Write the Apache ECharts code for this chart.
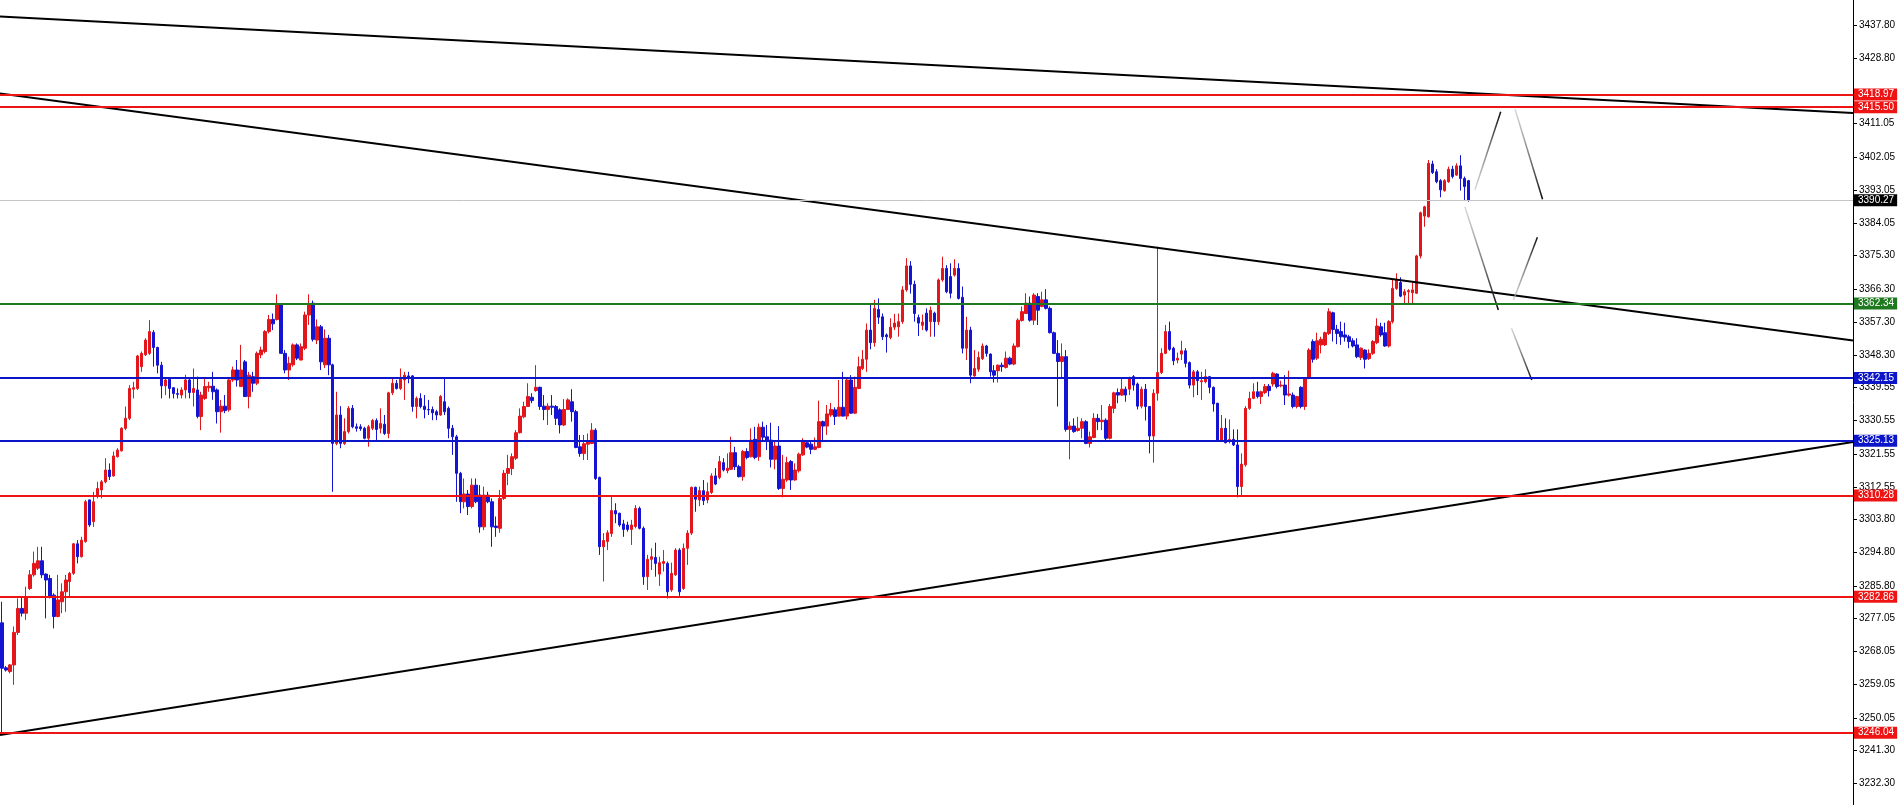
<!DOCTYPE html>
<html><head><meta charset="utf-8">
<script src="https://cdn.jsdelivr.net/npm/echarts@6/dist/echarts.min.js"></script>
<style>html,body{margin:0;padding:0;background:#fff;overflow:hidden}#c{width:1899px;height:805px}</style>
</head><body><div id="c"></div><script>
const opens = [
3275.8,3263.6,3262.6,3264.4,3273.2,3279.7,3278.4,3285.1,3288.8,3290.6,
3292.6,3289.0,3287.8,3283.3,3277.5,3281.5,3284.2,3287.0,3289.2,3297.2,
3293.7,3297.8,3309.1,3303.2,3310.0,3311.8,3314.0,3317.2,3315.6,3320.8,
3322.4,3328.5,3331.2,3339.1,3339.3,3345.2,3348.4,3348.8,3354.5,3350.4,
3345.6,3340.0,3341.8,3339.5,3337.9,3337.5,3338.9,3341.6,3338.2,3338.9,
3331.7,3336.6,3339.5,3339.9,3338.9,3333.0,3334.5,3333.5,3341.6,3344.3,
3339.8,3346.5,3337.1,3342.5,3340.7,3348.4,3349.3,3354.7,3358.0,3358.0,
3361.9,3348.8,3344.3,3345.7,3351.1,3347.0,3350.2,3359.2,3362.4,3352.4,
3356.0,3345.7,3352.9,3345.7,3324.4,3332.1,3324.4,3327.6,3333.9,3328.9,
3328.9,3328.5,3325.8,3328.5,3330.6,3328.5,3329.6,3327.1,3338.1,3340.7,
3339.3,3341.6,3342.7,3342.7,3334.4,3336.6,3334.5,3333.6,3333.6,3333.0,
3332.1,3335.7,3333.9,3328.5,3326.2,3316.3,3308.6,3310.7,3307.3,3313.1,
3310.4,3301.8,3310.4,3308.6,3302.0,3301.4,3309.5,3316.3,3317.6,3320.4,
3327.3,3331.6,3334.4,3336.9,3338.7,3339.6,3334.5,3333.6,3334.5,3334.4,
3333.5,3329.4,3333.6,3335.7,3333.0,3323.5,3321.7,3324.2,3324.4,3328.0,
3315.2,3296.4,3297.8,3300.0,3306.2,3305.5,3302.6,3302.3,3301.1,3301.9,
3306.8,3301.4,3288.3,3293.0,3293.5,3289.0,3291.9,3291.9,3284.7,3288.8,
3295.5,3285.1,3296.0,3300.1,3312.5,3309.1,3311.6,3309.1,3311.1,3315.6,
3315.2,3319.2,3317.0,3317.4,3321.9,3318.1,3315.4,3322.2,3320.8,3325.5,
3320.8,3328.8,3326.2,3325.3,3320.1,3323.7,3312.2,3314.5,3319.5,3314.5,
3317.0,3321.3,3324.6,3324.2,3322.8,3323.3,3330.3,3329.1,3332.1,3333.5,
3331.8,3334.2,3331.8,3341.6,3332.6,3339.3,3344.7,3347.2,3355.1,3351.7,
3360.7,3358.7,3353.8,3353.1,3355.9,3356.0,3357.4,3366.0,3372.5,3367.5,
3358.5,3356.4,3359.7,3357.4,3359.7,3357.4,3368.7,3371.8,3369.6,3370.0,
3371.8,3364.0,3350.2,3355.1,3342.7,3344.5,3347.4,3350.8,3348.6,3344.1,
3344.1,3345.6,3345.0,3347.5,3345.9,3350.6,3357.7,3359.6,3362.4,3357.8,
3364.2,3361.5,3363.3,3361.0,3354.4,3348.8,3346.6,3347.9,3328.2,3329.1,
3327.9,3328.5,3330.3,3324.4,3326.0,3331.2,3330.3,3330.7,3325.8,3333.9,
3338.2,3337.5,3339.1,3339.1,3342.5,3340.5,3334.5,3339.1,3334.4,3326.4,
3338.0,3343.6,3348.8,3354.7,3350.2,3347.0,3348.6,3349.5,3346.3,3340.2,
3343.8,3341.1,3341.1,3342.5,3339.6,3335.3,3325.3,3328.5,3325.2,3325.5,
3324.0,3312.7,3318.6,3333.9,3336.6,3338.4,3337.1,3338.2,3339.9,3340.5,
3343.2,3340.0,3340.2,3337.5,3337.5,3334.4,3339.6,3334.4,3342.0,3352.0,
3347.5,3351.1,3351.1,3354.2,3359.8,3355.3,3354.7,3353.8,3353.3,3352.2,
3351.1,3347.7,3349.7,3347.4,3348.8,3351.7,3356.0,3354.4,3350.8,3357.4,
3366.4,3368.0,3364.6,3365.5,3365.2,3365.1,3375.2,3386.0,3385.8,3400.1,
3398.0,3395.6,3392.9,3395.3,3398.7,3397.1,3399.6,3396.2,3395.6];
const closes = [
3263.5,3263.0,3264.4,3273.2,3279.7,3278.4,3282.9,3288.8,3291.9,3292.6,
3288.8,3287.4,3282.9,3277.5,3282.0,3284.2,3287.4,3289.2,3297.2,3293.7,
3298.2,3308.6,3302.3,3308.6,3312.2,3314.0,3317.2,3315.4,3321.0,3322.6,
3328.5,3331.2,3339.3,3339.5,3348.1,3348.8,3352.4,3354.7,3350.4,3345.6,
3340.0,3341.6,3339.3,3337.9,3337.7,3338.9,3341.6,3338.2,3339.3,3331.7,
3337.5,3339.8,3339.9,3338.4,3333.0,3334.5,3333.3,3341.6,3344.3,3341.6,
3344.3,3337.1,3342.9,3340.7,3348.8,3349.7,3354.7,3358.0,3356.8,3361.9,
3348.8,3344.3,3346.1,3351.1,3347.5,3350.6,3359.2,3361.9,3352.6,3356.0,
3346.5,3352.9,3345.7,3324.4,3332.1,3324.4,3327.6,3333.9,3328.9,3328.5,
3328.4,3325.8,3328.9,3330.6,3328.2,3329.8,3327.1,3338.1,3340.7,3339.3,
3341.8,3342.9,3342.3,3334.4,3336.6,3334.4,3333.6,3333.5,3332.7,3332.1,
3337.1,3333.0,3328.5,3326.2,3316.3,3308.6,3310.7,3307.3,3313.1,3308.6,
3301.8,3310.4,3308.6,3301.8,3301.6,3309.5,3316.3,3317.6,3320.8,3327.3,
3331.8,3334.4,3337.1,3336.0,3339.6,3334.4,3333.6,3334.5,3334.2,3331.2,
3329.4,3333.6,3336.2,3333.0,3323.3,3321.7,3324.3,3324.9,3328.0,3314.9,
3296.4,3298.1,3300.2,3306.2,3305.3,3302.3,3301.1,3301.1,3302.3,3306.8,
3301.4,3288.3,3293.0,3293.7,3291.9,3292.1,3292.4,3284.2,3289.2,3295.5,
3284.2,3296.0,3300.1,3312.5,3309.3,3311.6,3308.9,3311.3,3315.6,3313.4,
3319.5,3317.2,3317.7,3321.9,3318.1,3315.4,3322.2,3320.6,3325.3,3320.6,
3328.8,3326.1,3324.9,3320.1,3323.7,3312.2,3314.7,3319.2,3314.5,3317.2,
3321.5,3325.2,3323.4,3322.8,3323.5,3330.3,3329.1,3332.4,3333.6,3331.7,
3334.2,3331.8,3341.6,3332.6,3339.6,3345.2,3347.2,3355.1,3351.7,3361.0,
3358.6,3353.3,3353.3,3355.9,3357.0,3357.4,3366.0,3372.5,3367.5,3359.6,
3357.0,3357.3,3355.1,3360.5,3357.4,3368.7,3371.8,3365.5,3365.1,3371.8,
3363.7,3350.2,3355.1,3342.9,3344.7,3347.7,3350.8,3348.8,3343.8,3342.9,
3345.6,3345.2,3347.5,3345.9,3350.8,3357.8,3360.1,3362.4,3357.8,3364.6,
3360.5,3363.3,3361.0,3354.4,3348.8,3346.6,3347.9,3328.2,3329.1,3327.6,
3328.5,3330.3,3324.4,3326.2,3331.2,3330.3,3330.7,3325.8,3334.4,3338.1,
3337.5,3339.1,3337.5,3342.0,3340.2,3334.5,3339.1,3334.4,3326.4,3338.0,
3343.6,3348.8,3354.7,3349.9,3346.8,3347.5,3349.5,3346.1,3340.2,3343.8,
3341.4,3341.4,3342.5,3339.6,3335.1,3325.3,3328.5,3324.6,3325.5,3324.0,
3312.7,3318.8,3333.9,3336.6,3338.4,3337.1,3338.4,3339.8,3338.7,3343.4,
3339.8,3340.2,3337.5,3337.8,3334.4,3337.1,3334.4,3342.0,3349.7,3347.2,
3352.2,3352.6,3354.4,3360.1,3355.3,3354.2,3353.3,3353.2,3352.0,3350.8,
3347.9,3350.2,3347.2,3348.8,3352.0,3356.2,3353.8,3350.8,3357.4,3366.4,
3368.7,3364.3,3365.5,3365.8,3366.0,3375.2,3386.9,3388.5,3400.3,3397.8,
3395.3,3393.1,3395.6,3398.7,3396.7,3399.6,3396.2,3394.0,3390.27];
const lows = [
3246.0,3262.6,3262.1,3259.0,3272.5,3277.5,3276.6,3284.7,3288.3,3290.1,
3287.9,3277.0,3282.4,3274.3,3277.3,3278.4,3278.8,3282.9,3288.8,3291.9,
3293.5,3297.5,3301.8,3301.8,3309.5,3309.5,3313.6,3314.5,3315.4,3320.6,
3322.2,3328.0,3330.7,3336.6,3338.9,3343.8,3348.1,3348.4,3345.2,3343.4,
3336.6,3337.5,3336.6,3336.6,3336.6,3336.6,3336.6,3336.6,3334.4,3331.2,
3328.0,3336.2,3338.4,3336.2,3329.8,3327.3,3332.6,3333.0,3341.1,3339.8,
3339.8,3337.1,3333.9,3338.4,3340.2,3347.5,3348.8,3354.2,3355.1,3357.7,
3348.8,3343.4,3341.6,3345.2,3347.0,3346.9,3349.7,3356.5,3352.0,3351.3,
3344.3,3344.8,3342.9,3311.3,3323.9,3323.1,3324.0,3327.1,3328.5,3327.6,
3327.8,3325.5,3323.5,3328.0,3325.3,3327.1,3326.7,3325.8,3337.5,3339.0,
3338.9,3336.2,3340.7,3333.0,3331.2,3333.9,3331.2,3332.1,3330.7,3330.7,
3331.9,3332.1,3325.8,3321.3,3308.6,3305.5,3306.8,3305.0,3306.8,3308.2,
3300.2,3300.9,3308.2,3296.4,3299.1,3300.2,3309.1,3313.1,3315.8,3319.9,
3327.1,3331.2,3334.4,3335.3,3338.4,3333.5,3330.7,3329.4,3332.1,3329.4,
3327.1,3329.1,3333.5,3330.3,3323.1,3320.8,3319.9,3319.9,3324.2,3314.5,
3294.2,3287.0,3295.5,3299.1,3302.8,3301.8,3299.1,3300.5,3296.9,3301.4,
3301.1,3286.1,3284.7,3290.1,3288.3,3285.8,3289.7,3282.4,3284.2,3288.5,
3283.1,3284.7,3291.5,3299.6,3305.9,3307.4,3307.7,3308.2,3310.7,3313.1,
3314.7,3316.8,3316.3,3317.2,3317.2,3315.2,3314.3,3320.1,3320.6,3320.1,
3319.7,3325.3,3322.6,3317.9,3317.4,3311.8,3309.8,3314.0,3311.8,3314.3,
3316.5,3321.0,3323.1,3321.5,3322.6,3323.1,3325.3,3326.7,3331.6,3329.4,
3331.7,3331.7,3330.9,3332.4,3332.4,3339.1,3344.3,3343.8,3349.9,3350.6,
3356.8,3352.4,3349.0,3352.6,3355.1,3353.3,3356.8,3365.5,3365.0,3357.4,
3353.5,3355.1,3354.7,3353.3,3353.3,3356.5,3368.2,3365.1,3363.7,3369.6,
3363.4,3348.8,3347.0,3340.7,3342.5,3343.8,3347.0,3347.9,3342.5,3340.9,
3340.9,3343.8,3344.7,3345.6,3345.6,3350.4,3357.4,3359.5,3357.4,3356.5,
3356.5,3361.3,3360.7,3354.2,3348.6,3334.4,3342.0,3327.6,3320.1,3327.3,
3327.6,3325.8,3324.2,3323.3,3325.8,3328.0,3328.0,3324.9,3325.5,3332.6,
3335.3,3337.3,3335.7,3337.5,3338.7,3333.6,3333.9,3330.6,3321.7,3319.2,
3336.0,3343.2,3348.6,3349.5,3345.6,3346.1,3347.0,3345.0,3339.3,3336.9,
3337.5,3336.2,3340.7,3338.0,3333.0,3325.2,3324.9,3324.4,3324.4,3323.7,
3309.8,3310.4,3318.1,3333.5,3336.4,3336.6,3335.1,3337.8,3337.1,3339.8,
3339.3,3339.6,3334.8,3337.1,3333.9,3333.9,3333.9,3333.5,3341.8,3346.3,
3347.0,3348.8,3350.8,3353.8,3352.0,3351.3,3351.1,3352.0,3350.2,3350.4,
3347.5,3347.0,3344.7,3347.0,3348.4,3351.3,3353.3,3350.6,3350.4,3356.9,
3366.0,3364.0,3362.4,3362.4,3362.4,3364.9,3374.5,3383.1,3385.6,3397.4,
3394.9,3391.1,3392.6,3395.0,3396.2,3396.9,3392.9,3390.2,3389.9];
const highs = [
3281.5,3264.1,3264.6,3274.8,3282.4,3282.9,3285.6,3290.1,3295.1,3296.4,
3296.4,3289.2,3288.8,3283.8,3288.8,3286.5,3288.8,3289.6,3297.4,3298.2,
3299.1,3309.1,3309.2,3311.3,3314.0,3314.5,3320.4,3319.0,3322.2,3323.1,
3328.8,3334.4,3340.2,3341.1,3348.4,3349.3,3352.9,3357.8,3355.1,3350.6,
3346.5,3342.0,3342.0,3339.6,3339.3,3339.6,3343.0,3342.0,3344.7,3342.5,
3338.4,3342.0,3341.1,3343.8,3339.3,3336.2,3337.5,3342.0,3345.2,3347.0,
3351.1,3347.0,3343.8,3343.8,3349.3,3350.6,3355.1,3359.2,3359.6,3364.8,
3362.4,3349.7,3347.9,3351.5,3351.5,3351.5,3360.1,3364.8,3363.1,3358.0,
3356.5,3355.3,3353.8,3346.0,3338.4,3334.5,3331.2,3334.5,3334.8,3329.8,
3329.6,3328.9,3329.4,3331.0,3331.2,3333.9,3332.1,3338.4,3342.0,3341.6,
3344.7,3343.8,3343.8,3342.9,3337.1,3338.0,3337.5,3336.2,3334.4,3333.5,
3337.5,3342.0,3334.4,3329.4,3326.7,3316.7,3314.9,3311.8,3314.9,3314.9,
3313.1,3312.7,3311.3,3309.5,3304.6,3311.8,3317.2,3321.3,3321.7,3328.0,
3333.9,3335.7,3340.7,3338.0,3345.6,3339.8,3337.5,3335.3,3337.5,3334.8,
3333.9,3336.4,3336.6,3339.1,3333.5,3326.7,3326.7,3327.1,3329.9,3328.5,
3315.4,3300.1,3300.9,3310.0,3308.2,3305.6,3303.7,3303.2,3303.7,3307.7,
3307.3,3301.9,3294.2,3296.0,3297.5,3293.7,3295.5,3292.4,3292.1,3296.0,
3296.0,3297.3,3300.9,3312.7,3312.7,3312.7,3314.5,3313.8,3316.3,3317.7,
3321.0,3320.4,3321.7,3326.2,3323.5,3318.6,3322.6,3323.1,3328.5,3328.9,
3329.8,3330.3,3329.4,3330.0,3324.9,3329.1,3321.3,3320.8,3319.9,3319.0,
3321.9,3325.8,3325.3,3325.3,3326.0,3336.0,3330.6,3334.8,3335.4,3334.2,
3341.6,3343.8,3342.3,3342.9,3342.5,3347.9,3349.7,3356.9,3361.9,3363.3,
3363.7,3359.6,3354.2,3358.3,3359.5,3359.6,3367.0,3374.6,3373.8,3368.5,
3359.3,3359.3,3361.0,3361.5,3360.1,3369.1,3375.0,3372.7,3373.2,3374.3,
3373.2,3366.9,3358.7,3356.0,3349.7,3349.3,3351.5,3351.1,3348.8,3345.6,
3345.8,3346.3,3349.3,3347.9,3351.5,3358.3,3361.5,3365.1,3364.2,3365.1,
3365.1,3365.5,3366.2,3361.5,3354.7,3352.4,3351.5,3349.7,3330.3,3331.2,
3331.6,3331.2,3330.7,3327.6,3332.6,3332.4,3334.8,3331.2,3335.1,3338.4,
3339.3,3342.0,3339.8,3342.5,3342.9,3340.9,3339.8,3340.5,3334.5,3339.1,
3377.7,3350.2,3356.5,3357.4,3350.6,3349.0,3352.2,3350.2,3346.6,3344.3,
3344.3,3343.8,3344.5,3342.7,3339.8,3335.4,3332.1,3331.2,3330.9,3328.2,
3328.2,3321.7,3334.5,3338.4,3340.7,3341.1,3338.7,3340.5,3340.5,3343.8,
3343.4,3341.4,3342.9,3344.1,3338.2,3337.3,3339.9,3342.3,3350.2,3352.6,
3354.4,3353.3,3354.7,3361.0,3360.1,3356.5,3357.4,3357.1,3353.8,3352.9,
3352.9,3350.4,3349.9,3349.9,3352.4,3358.3,3357.1,3357.1,3357.8,3368.7,
3370.5,3369.4,3366.2,3366.2,3368.0,3375.5,3387.2,3388.8,3401.2,3401.0,
3398.7,3396.0,3396.0,3399.4,3399.6,3400.3,3402.5,3396.7,3395.8];

const tickValues = [3437.80,3428.80,3411.05,3402.05,3393.05,3384.05,3375.30,3366.30,3357.30,3348.30,
  3339.55,3330.55,3321.55,3312.55,3303.80,3294.80,3285.80,3277.05,3268.05,3259.05,3250.05,3241.30,3232.30];
const levelValues = [3418.97,3415.50,3390.27,3362.34,3342.15,3325.13,3310.28,3282.86,3246.04];
const levelKinds  = ['red','red','price','green','blue','blue','red','red','red'];
// trend lines: [barIndex0, price0, barIndex1, price1]
const trendLines = [[-0.5,3440.1,464.5,3413.95],[-0.5,3419.2,464.5,3352.3],[-0.5,3245.4,464.5,3324.8]];
const projectionLines = [[369.6,3393.06,376.1,3414.28],[379.7,3414.93,386.6,3390.54],
  [367.1,3388.54,375.5,3360.55],[379.3,3363.26,385.3,3380.25],[378.8,3355.59,383.9,3341.59]];
const slotCount = 465;
const yMin = 3226.44, yMax = 3444.54;

const UP = '#e3161c', DOWN = '#1414d2';
const kindStyle = {
  red:   {line:'#ee1414', box:'#ee1414', width:2, text:'#fff'},
  blue:  {line:'#0c16c8', box:'#0c16c8', width:2, text:'#fff'},
  green: {line:'#1f7a1f', box:'#1f7a1f', width:2, text:'#fff'},
  price: {line:'#c4c4c4', box:'#000000', width:1, text:'#fff'}
};
const FONT = 'Liberation Sans, Arial, sans-serif';

const categories = Array.from({length: slotCount}, (_, i) => String(i));
const candleData = opens.map((o, i) => [o, closes[i], lows[i], highs[i]]);

const markData = levelValues.map((v, i) => {
  const s = kindStyle[levelKinds[i]];
  return {
    yAxis: v,
    lineStyle: {color: s.line, width: s.width, type: 'solid'},
    label: {show: true, position: 'end', distance: 1, formatter: () => v.toFixed(2),
      color: s.text, backgroundColor: s.box, padding: [1, 3, 1, 4],
      fontSize: 10, lineHeight: 10, fontFamily: FONT}
  };
});

const series = [{
  type: 'candlestick', xAxisIndex: 0, yAxisIndex: 0, data: candleData, barWidth: 3,
  itemStyle: {color: UP, color0: DOWN, borderColor: UP, borderColor0: DOWN, borderWidth: 1},
  markLine: {symbol: ['none', 'none'], silent: true, animation: false, data: markData},
  z: 3
}];
trendLines.forEach(t => series.push({
  type: 'line', xAxisIndex: 1, yAxisIndex: 0, data: [[t[0], t[1]], [t[2], t[3]]],
  symbol: 'none', lineStyle: {color: '#000', width: 2}, z: 4, silent: true
}));
projectionLines.forEach(t => {
  const up = t[3] > t[1];
  series.push({
    type: 'line', xAxisIndex: 1, yAxisIndex: 0, data: [[t[0], t[1]], [t[2], t[3]]],
    symbol: 'none', z: 4, silent: true,
    lineStyle: {width: 1.5, color: new echarts.graphic.LinearGradient(0, up ? 1 : 0, 1, up ? 0 : 1,
      [{offset: 0, color: 'rgba(200,200,200,0.6)'}, {offset: 1, color: '#000'}])}
  });
});

const chart = echarts.init(document.getElementById('c'), null, {renderer: 'canvas'});
chart.setOption({
  animation: false,
  backgroundColor: '#fff',
  grid: {left: 0, right: 46, top: 0, bottom: 0, containLabel: false},
  xAxis: [
    {type: 'category', data: categories, boundaryGap: true, show: false},
    {type: 'value', min: -0.5, max: slotCount - 0.5, show: false}
  ],
  yAxis: {
    type: 'value', position: 'right', min: yMin, max: yMax, scale: true,
    splitLine: {show: false},
    axisLine: {show: true, onZero: false, lineStyle: {color: '#000', width: 1}},
    axisTick: {show: true, length: 4, customValues: tickValues, lineStyle: {color: '#000'}},
    axisLabel: {show: true, customValues: tickValues, margin: 6, color: '#000',
      fontSize: 10, fontFamily: FONT, formatter: v => Number(v).toFixed(2)}
  },
  series
});
</script></body></html>
